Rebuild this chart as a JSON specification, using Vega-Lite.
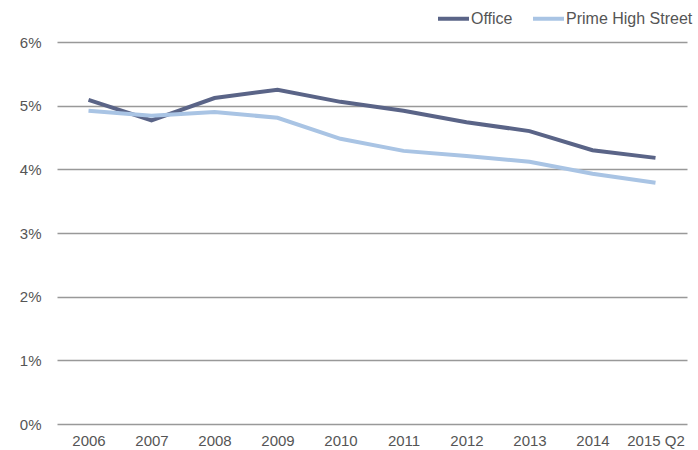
{
  "$schema": "https://vega.github.io/schema/vega-lite/v6.json",
  "width": 630,
  "height": 382,
  "autosize": {"type": "none"},
  "padding": {"left": 57, "top": 42, "right": 11, "bottom": 26},
  "background": "white",
  "config": {
    "font": "Liberation Sans",
    "view": {"stroke": null}
  },
  "data": {
    "values": [
      {"year": "2006", "series": "Office", "value": 5.09},
      {"year": "2007", "series": "Office", "value": 4.77},
      {"year": "2008", "series": "Office", "value": 5.12},
      {"year": "2009", "series": "Office", "value": 5.25},
      {"year": "2010", "series": "Office", "value": 5.06},
      {"year": "2011", "series": "Office", "value": 4.92},
      {"year": "2012", "series": "Office", "value": 4.74},
      {"year": "2013", "series": "Office", "value": 4.60},
      {"year": "2014", "series": "Office", "value": 4.30},
      {"year": "2015 Q2", "series": "Office", "value": 4.18},
      {"year": "2006", "series": "Prime High Street", "value": 4.92},
      {"year": "2007", "series": "Prime High Street", "value": 4.84},
      {"year": "2008", "series": "Prime High Street", "value": 4.90},
      {"year": "2009", "series": "Prime High Street", "value": 4.81},
      {"year": "2010", "series": "Prime High Street", "value": 4.48},
      {"year": "2011", "series": "Prime High Street", "value": 4.29},
      {"year": "2012", "series": "Prime High Street", "value": 4.21},
      {"year": "2013", "series": "Prime High Street", "value": 4.12},
      {"year": "2014", "series": "Prime High Street", "value": 3.93},
      {"year": "2015 Q2", "series": "Prime High Street", "value": 3.79}
    ]
  },
  "mark": {"type": "line", "strokeWidth": 4, "strokeCap": "butt"},
  "encoding": {
    "x": {
      "field": "year",
      "type": "ordinal",
      "scale": {"type": "point", "padding": 0.5},
      "axis": {
        "title": null,
        "labelAngle": 0,
        "domain": false,
        "ticks": false,
        "labelPadding": 9,
        "labelFontSize": 15,
        "labelColor": "#555555"
      }
    },
    "y": {
      "field": "value",
      "type": "quantitative",
      "scale": {"domain": [0, 6], "nice": false},
      "axis": {
        "title": null,
        "values": [0, 1, 2, 3, 4, 5, 6],
        "labelExpr": "datum.value + '%'",
        "domain": false,
        "ticks": false,
        "gridColor": "#999999",
        "gridWidth": 1.3,
        "gridOpacity": 1,
        "labelPadding": 16,
        "labelFontSize": 15,
        "labelColor": "#555555"
      }
    },
    "color": {
      "field": "series",
      "type": "nominal",
      "scale": {"domain": ["Office", "Prime High Street"], "range": ["#5a6487", "#a9c4e4"]},
      "legend": {
        "title": null,
        "orient": "none",
        "direction": "horizontal",
        "legendX": 379,
        "legendY": -41,
        "symbolType": "stroke",
        "symbolSize": 961,
        "symbolStrokeWidth": 4,
        "labelFontSize": 16,
        "labelColor": "#555555",
        "labelOffset": 0,
        "columnPadding": 12
      }
    }
  }
}
